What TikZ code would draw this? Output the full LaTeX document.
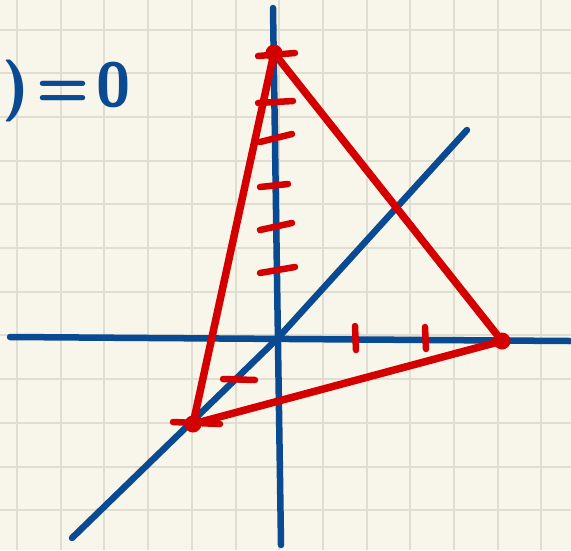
\documentclass[tikz,border=0pt]{standalone}
\usetikzlibrary{calc}
\definecolor{paper}{RGB}{248,245,234}
\definecolor{gridgray}{RGB}{224,222,208}
\definecolor{inkblue}{RGB}{10,74,146}
\definecolor{inkred}{RGB}{212,0,0}
\tikzset{
  gridline/.style={gridgray, line width=2pt},
  axis/.style={inkblue, line width=6.5pt, line cap=round, line join=round},
  side/.style={inkred, line width=7.5pt, line cap=round, line join=round},
  hashmark/.style={inkred, line width=6.5pt, line cap=round},
  vertex/.style={circle, fill=inkred, inner sep=0pt, minimum size=17pt},
}

\begin{document}
\begin{tikzpicture}[x=1pt, y=-1pt]
        % Papier
        \useasboundingbox (0,0) rectangle (571,550);
        \fill[paper] (0,0) rectangle (571,550);
        \foreach \i in {0,...,12} \draw[gridline] ({17+43.7*\i},0) -- ++(0,550);
        \foreach \j in {0,...,12} \draw[gridline] (0,{29.5+43.7*\j}) -- ++(571,0);
        % Sumbu
        \coordinate (xleft) at (10,337);
        \coordinate (xright) at (570,341);
        \coordinate (ytop) at (273,8);
        \coordinate (ybot) at (281,545);
        \coordinate (O) at (277,339);
        \coordinate (dlow) at (72,538);
        \coordinate (dhigh) at (467,130);
        \draw[axis] (xleft) -- (xright);
        \draw[axis] (ytop) -- (ybot);
        \draw[axis] (dlow) -- (O) -- (dhigh);
        % Persamaan
        \node[inkblue, font=\fontsize{62}{62}\selectfont\sffamily\bfseries, anchor=base west, inner sep=0pt] (eq) at (2,106) {)\hspace{0.12em}=\hspace{0.12em}0};
        % Titik potong
        \node[vertex] (A) at (274,53) {};
        \node[vertex] (B) at (502,341) {};
        \node[vertex] (C) at (193,424) {};
        % Tanda skala
        \foreach \xa/\ya/\xb/\yb in {258/56/295/53, 258/103/293/101, 260/142/292/134, 260/187/288/184, 260/230/292/223, 260/273/295/267, 355/326/356/350, 425/327/426/349, 223/379/255/380, 173/422/220/424}
          \draw[hashmark] (\xa,\ya) -- (\xb,\yb);
        % Segitiga
        \draw[side] (A.center) -- (B.center) -- (C.center) -- cycle;
      \end{tikzpicture}
\end{document}
